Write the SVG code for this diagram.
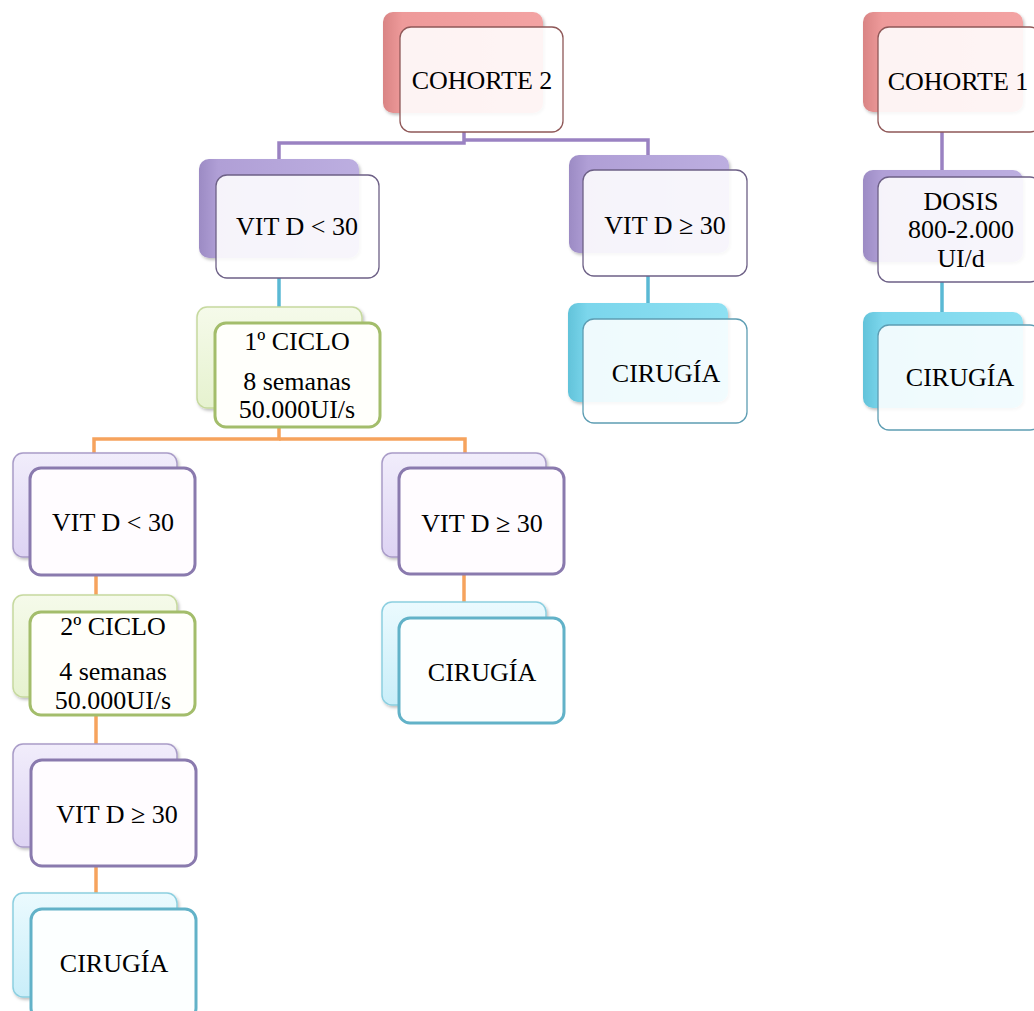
<svg xmlns="http://www.w3.org/2000/svg" width="1034" height="1011" viewBox="0 0 1034 1011">
<defs>
  <linearGradient id="gPink" x1="0" y1="0" x2="1" y2="0">
    <stop offset="0" stop-color="#d98484"/><stop offset="0.12" stop-color="#ee9a9a"/><stop offset="1" stop-color="#f3a3a3"/>
  </linearGradient>
  <linearGradient id="gPurple" x1="0" y1="0" x2="1" y2="0">
    <stop offset="0" stop-color="#9c8bc4"/><stop offset="0.12" stop-color="#b09fd6"/><stop offset="1" stop-color="#bcaee0"/>
  </linearGradient>
  <linearGradient id="gTeal" x1="0" y1="0" x2="1" y2="0">
    <stop offset="0" stop-color="#62c3da"/><stop offset="0.12" stop-color="#7bd6ec"/><stop offset="1" stop-color="#8ee0f2"/>
  </linearGradient>
  <linearGradient id="gLav" x1="0" y1="0" x2="0" y2="1">
    <stop offset="0" stop-color="#f1edfb"/><stop offset="1" stop-color="#ddd3f3"/>
  </linearGradient>
  <linearGradient id="gGreen" x1="0" y1="0" x2="0" y2="1">
    <stop offset="0" stop-color="#f5faea"/><stop offset="1" stop-color="#e6f2cf"/>
  </linearGradient>
  <linearGradient id="gCyan" x1="0" y1="0" x2="0" y2="1">
    <stop offset="0" stop-color="#ebfafe"/><stop offset="1" stop-color="#c9eef9"/>
  </linearGradient>
  <filter id="sh" x="-10%" y="-10%" width="125%" height="125%">
    <feDropShadow dx="1.5" dy="2" stdDeviation="1.5" flood-color="#000" flood-opacity="0.25"/>
  </filter>
</defs>
<style>
  .t { font-family: "Liberation Serif", "Times New Roman", serif; font-size: 26px; fill: #000; text-anchor: middle; }
  .b { filter: url(#sh); }
  .bPink { fill: url(#gPink); }
  .bPurple { fill: url(#gPurple); }
  .bTeal { fill: url(#gTeal); }
  .bLav { fill: url(#gLav); stroke: #a99cc8; stroke-width: 1.5; }
  .bGreen { fill: url(#gGreen); stroke: #c6d99f; stroke-width: 1.5; }
  .bCyan { fill: url(#gCyan); stroke: #8ccfe0; stroke-width: 1.5; }
  .f { fill: #ffffff; fill-opacity: 0.88; }
  .fPink { stroke: #8f5858; stroke-width: 1.3; }
  .fPurple { stroke: #6d6086; stroke-width: 1.3; }
  .fTeal { stroke: #5d9db3; stroke-width: 1.3; }
  .fLav { fill: #fffcff; fill-opacity: 1; stroke: #8a7aae; stroke-width: 3; }
  .fGreen { fill: #fffffb; fill-opacity: 1; stroke: #a3bd6b; stroke-width: 3; }
  .fCyan { fill: #fcffff; fill-opacity: 1; stroke: #62b2c8; stroke-width: 3; }
  .cP { stroke: #9a82c2; stroke-width: 3.5; fill: none; }
  .cT { stroke: #5ab9d4; stroke-width: 3.5; fill: none; }
  .cO { stroke: #f6a35d; stroke-width: 3.5; fill: none; }
</style>

<g id="connectors">
  <path class="cP" d="M464 132 V143 H279 V160"/>
  <path class="cP" d="M464 140 H648 V156"/>
  <path class="cP" d="M942 132 V171"/>
  <path class="cT" d="M279 278 V308"/>
  <path class="cT" d="M648 276 V304"/>
  <path class="cT" d="M942 282 V313"/>
  <path class="cO" d="M279 427 V439 H94 V454"/>
  <path class="cO" d="M279 439 H465 V454"/>
  <path class="cO" d="M96 575 V596"/>
  <path class="cO" d="M96 715 V745"/>
  <path class="cO" d="M96 866 V894"/>
  <path class="cO" d="M464 574 V603"/>
</g>

<g id="cohorte2">
  <rect class="b bPink" x="383" y="12" width="160" height="101" rx="10"/>
  <rect class="f fPink" x="400" y="27" width="163" height="105" rx="11"/>
  <text class="t" x="482" y="89">COHORTE 2</text>
</g>

<g id="vitd-lt30-a">
  <rect class="b bPurple" x="199" y="159" width="160" height="99" rx="10"/>
  <rect class="f fPurple" x="216" y="175" width="163" height="103" rx="11"/>
  <text class="t" x="297" y="235">VIT D &lt; 30</text>
</g>

<g id="vitd-ge30-a">
  <rect class="b bPurple" x="569" y="155" width="160" height="98" rx="10"/>
  <rect class="f fPurple" x="583" y="170" width="164" height="106" rx="11"/>
  <text class="t" x="665" y="234">VIT D ≥ 30</text>
</g>

<g id="cirugia-a">
  <rect class="b bTeal" x="568" y="303" width="160" height="99" rx="10"/>
  <rect class="f fTeal" x="583" y="319" width="164" height="104" rx="11"/>
  <text class="t" x="666" y="382">CIRUGÍA</text>
</g>

<g id="cohorte1">
  <rect class="b bPink" x="863" y="12" width="160" height="100" rx="10"/>
  <rect class="f fPink" x="878" y="27" width="163" height="105" rx="11"/>
  <text class="t" x="958" y="90">COHORTE 1</text>
</g>

<g id="dosis">
  <rect class="b bPurple" x="863" y="170" width="160" height="92" rx="10"/>
  <rect class="f fPurple" x="878" y="177" width="163" height="105" rx="11"/>
  <text class="t" x="961" y="210">DOSIS</text>
  <text class="t" x="961" y="238">800-2.000</text>
  <text class="t" x="961" y="267">UI/d</text>
</g>

<g id="cirugia-c1">
  <rect class="b bTeal" x="863" y="312" width="160" height="96" rx="10"/>
  <rect class="f fTeal" x="878" y="325" width="163" height="105" rx="11"/>
  <text class="t" x="960" y="386">CIRUGÍA</text>
</g>

<g id="ciclo1">
  <rect class="b bGreen" x="197" y="307" width="165" height="101" rx="10"/>
  <rect class="f fGreen" x="215" y="323" width="165" height="104" rx="11"/>
  <text class="t" x="297" y="350">1º CICLO</text>
  <text class="t" x="297" y="390">8 semanas</text>
  <text class="t" x="297" y="418">50.000UI/s</text>
</g>

<g id="vitd-lt30-b">
  <rect class="b bLav" x="13" y="453" width="164" height="104" rx="10"/>
  <rect class="f fLav" x="30" y="468" width="165" height="107" rx="11"/>
  <text class="t" x="113" y="531">VIT D &lt; 30</text>
</g>

<g id="vitd-ge30-b">
  <rect class="b bLav" x="382" y="453" width="164" height="104" rx="10"/>
  <rect class="f fLav" x="399" y="468" width="165" height="106" rx="11"/>
  <text class="t" x="482" y="532">VIT D ≥ 30</text>
</g>

<g id="cirugia-b">
  <rect class="b bCyan" x="382" y="602" width="164" height="103" rx="10"/>
  <rect class="f fCyan" x="399" y="618" width="165" height="105" rx="11"/>
  <text class="t" x="482" y="681">CIRUGÍA</text>
</g>

<g id="ciclo2">
  <rect class="b bGreen" x="13" y="595" width="164" height="102" rx="10"/>
  <rect class="f fGreen" x="30" y="612" width="165" height="103" rx="11"/>
  <text class="t" x="113" y="635">2º CICLO</text>
  <text class="t" x="113" y="680">4 semanas</text>
  <text class="t" x="113" y="709">50.000UI/s</text>
</g>

<g id="vitd-ge30-c">
  <rect class="b bLav" x="13" y="744" width="164" height="103" rx="10"/>
  <rect class="f fLav" x="31" y="760" width="165" height="106" rx="11"/>
  <text class="t" x="117" y="823">VIT D ≥ 30</text>
</g>

<g id="cirugia-c">
  <rect class="b bCyan" x="13" y="893" width="164" height="104" rx="10"/>
  <rect class="f fCyan" x="31" y="909" width="165" height="110" rx="11"/>
  <text class="t" x="114" y="972">CIRUGÍA</text>
</g>
</svg>
